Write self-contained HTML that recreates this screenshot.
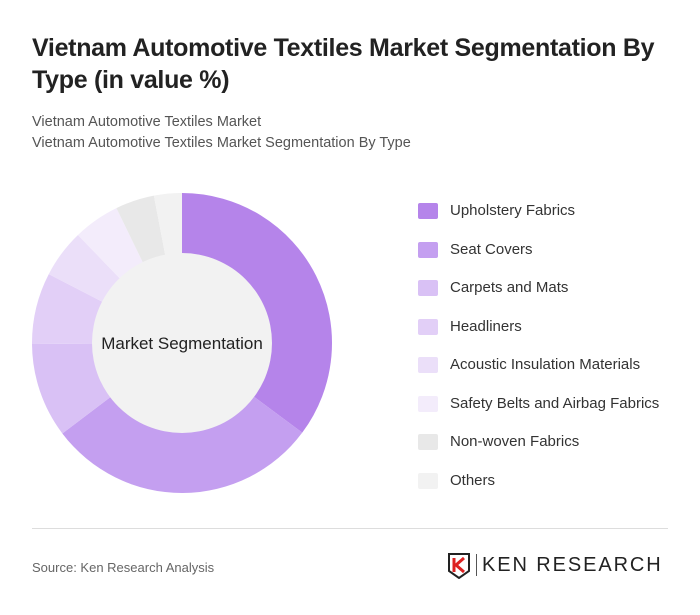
<!DOCTYPE html>
<html><head><meta charset="utf-8"><style>
body{margin:0;background:#fff;font-family:"Liberation Sans",sans-serif;}
#card{position:relative;width:700px;height:615px;background:#fff;overflow:hidden;}
.t{position:absolute;left:32px;top:32px;font-size:25px;font-weight:bold;color:#222;line-height:32px;width:650px;letter-spacing:-0.3px}
.s{position:absolute;left:32px;font-size:14.5px;color:#555}
.leg{position:absolute;left:418px;font-size:15px;color:#333}
.sw{position:absolute;left:0;top:2px;width:20px;height:16px;border-radius:2px}
.lt{position:absolute;left:32px;white-space:nowrap;top:0}
</style></head><body>
<div id="card">
<div class="t">Vietnam Automotive Textiles Market Segmentation By Type (in value %)</div>
<div class="s" style="top:114px">Vietnam Automotive Textiles Market</div>
<div class="s" style="top:135px">Vietnam Automotive Textiles Market Segmentation By Type</div>
<svg id="donut" width="400" height="340" style="position:absolute;left:0;top:170px"></svg>
<div id="legend"></div>
<div style="position:absolute;left:32px;top:528px;width:636px;height:1px;background:#ddd"></div>
<div class="s" style="top:560px;font-size:13px;color:#666">Source: Ken Research Analysis</div>
<div style="position:absolute;left:448px;top:553px;width:22px;height:26px">
<svg width="22" height="26"><path d="M1 1h20v17l-10 7-10-7z" fill="none" stroke="#222" stroke-width="2"/><path d="M6 5v14M16 5l-8 7 8 7" fill="none" stroke="#d22" stroke-width="3"/></svg></div>
<div style="position:absolute;left:476px;top:554px;font-size:20px;color:#222;letter-spacing:1.9px;border-left:1px solid #555;padding-left:5px;line-height:22px;white-space:nowrap">KEN RESEARCH</div>
</div>
<script>
const categories=["Upholstery Fabrics","Seat Covers","Carpets and Mats","Headliners","Acoustic Insulation Materials","Safety Belts and Airbag Fabrics","Non-woven Fabrics","Others"];
const values=[35.2,29.5,10.2,7.7,5.2,5.0,4.2,3.0];
const colors=["#b584ea","#c49ff0","#d9c1f5","#e2cff7","#ebdff9","#f3ecfb","#e8e8e8","#f2f2f2"];
const ns="http://www.w3.org/2000/svg";
const svg=document.getElementById('donut');
const cx=182,cy=173,R=150,r=90;
const total=values.reduce((a,b)=>a+b,0);
let a0=0;
function pt(a,rad){return [cx+rad*Math.sin(a),cy-rad*Math.cos(a)];}
values.forEach((v,i)=>{
 const a1=a0+v/total*2*Math.PI;
 const [x0,y0]=pt(a0,R),[x1,y1]=pt(a1,R);
 const lg=(a1-a0)>Math.PI?1:0;
 const p=document.createElementNS(ns,'path');
 p.setAttribute('d',`M${cx},${cy}L${x0},${y0}A${R},${R} 0 ${lg} 1 ${x1},${y1}Z`);
 p.setAttribute('fill',colors[i]);
 
 
 svg.appendChild(p);
 a0=a1;
});
const c=document.createElementNS(ns,'circle');
c.setAttribute('cx',cx);c.setAttribute('cy',cy);c.setAttribute('r',r);c.setAttribute('fill','#f2f2f2');


svg.appendChild(c);
const t=document.createElementNS(ns,'text');
t.setAttribute('x',cx);t.setAttribute('y',cy+6);t.setAttribute('text-anchor','middle');
t.setAttribute('font-size','17');t.setAttribute('fill','#222');t.setAttribute('font-family','Liberation Sans, sans-serif');
t.textContent='Market Segmentation';


svg.appendChild(t);
const lg=document.getElementById('legend');
categories.forEach((n,i)=>{
 const d=document.createElement('div');d.className='leg';d.style.top=(201+i*38.5)+'px';
 
 
 d.innerHTML=`<div class="sw" style="background:${colors[i]}"></div><div class="lt" style="top:1px">${n}</div>`;
 lg.appendChild(d);
});
</script>
</body></html>
